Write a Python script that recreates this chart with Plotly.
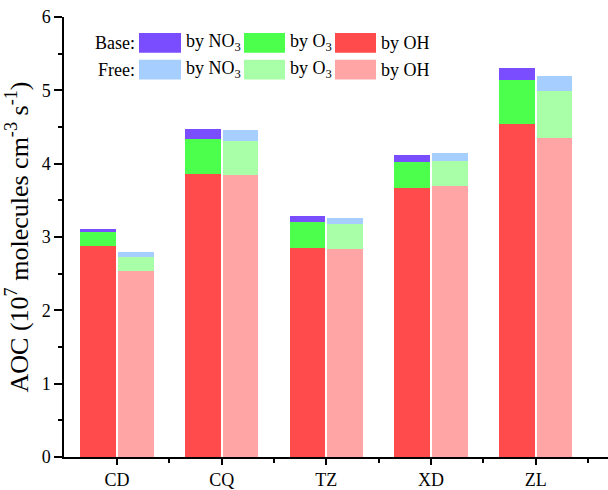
import plotly.graph_objects as go

sites = ["CD", "CQ", "TZ", "XD", "ZL"]
base_oh = [2.88, 3.86, 2.85, 3.67, 4.54]
base_o3 = [0.19, 0.47, 0.35, 0.35, 0.60]
base_no3 = [0.045, 0.14, 0.08, 0.10, 0.16]
free_oh = [2.53, 3.84, 2.83, 3.70, 4.35]
free_o3 = [0.20, 0.47, 0.345, 0.33, 0.64]
free_no3 = [0.06, 0.15, 0.085, 0.11, 0.21]

col_base = {"OH": "#FF4B4B", "O3": "#4DFF4D", "NO3": "#7A4DFF"}
col_free = {"OH": "#FFA5A5", "O3": "#A8FFA8", "NO3": "#A6CEFF"}

FONT = "Liberation Serif, Times New Roman, serif"
idx = list(range(len(sites)))
off = 0.18
w = 0.34

fig = go.Figure()
for name, vals, col in [("OH", base_oh, col_base["OH"]), ("O3", base_o3, col_base["O3"]), ("NO3", base_no3, col_base["NO3"])]:
    fig.add_trace(go.Bar(x=[i - off for i in idx], y=vals, width=w, marker=dict(color=col, line=dict(width=0)),
                         name="Base " + name, showlegend=False))
for name, vals, col in [("OH", free_oh, col_free["OH"]), ("O3", free_o3, col_free["O3"]), ("NO3", free_no3, col_free["NO3"])]:
    fig.add_trace(go.Bar(x=[i + off for i in idx], y=vals, width=w, marker=dict(color=col, line=dict(width=0)),
                         name="Free " + name, showlegend=False))

fig.update_layout(
    barmode="stack",
    width=608, height=490,
    margin=dict(l=64, r=0, t=17, b=30),
    plot_bgcolor="white", paper_bgcolor="white",
    font=dict(family=FONT, size=18, color="black"),
    showlegend=False,
)
fig.update_xaxes(
    range=[-0.506, 4.69], tickmode="array", tickvals=idx, ticktext=sites,
    ticks="outside", ticklen=6, tickwidth=1.5, tickcolor="black",
    showline=True, linecolor="black", linewidth=1.5, showgrid=False, zeroline=False,
    minor=dict(tickmode="array", tickvals=[i + 0.5 for i in idx], ticks="outside", ticklen=4, tickwidth=1.5, tickcolor="black"),
    tickfont=dict(size=18),
)
fig.update_yaxes(
    range=[0, 6], tickmode="linear", tick0=0, dtick=1,
    ticks="outside", ticklen=8, tickwidth=1.5, tickcolor="black",
    showline=True, linecolor="black", linewidth=1.5, showgrid=False, zeroline=False,
    minor=dict(dtick=0.5, ticks="outside", ticklen=4, tickwidth=1.5, tickcolor="black"),
    tickfont=dict(size=18),
    title=dict(text="AOC (10<sup>7</sup> molecules cm<sup>-3</sup> s<sup>-1</sup>)", font=dict(size=26), standoff=6),
)

# custom legend (pixel positions converted to paper coords)
PW, PH = 608 - 64, 490 - 17 - 30
def px(x):
    return (x - 64) / PW
def py(y):
    return (490 - 30 - y) / PH

rows = [("Base:", col_base, 33, 53), ("Free:", col_free, 60, 80)]
sw_x = [(139, 181), (244, 285), (335, 376)]
labels = ["by NO<sub>3</sub>", "by O<sub>3</sub>", "by OH"]
keys = ["NO3", "O3", "OH"]
for rlabel, cols, y0, y1 in rows:
    fig.add_annotation(x=px(137), y=py((y0 + y1) / 2), xref="paper", yref="paper", text=rlabel,
                       showarrow=False, xanchor="right", yanchor="middle", font=dict(size=18))
    for (x0, x1), lab, k in zip(sw_x, labels, keys):
        fig.add_shape(type="rect", xref="paper", yref="paper", x0=px(x0), x1=px(x1), y0=py(y1), y1=py(y0),
                      fillcolor=cols[k], line=dict(width=0))
        fig.add_annotation(x=px(x1 + 3), y=py((y0 + y1) / 2), xref="paper", yref="paper", text=lab,
                           showarrow=False, xanchor="left", yanchor="middle", font=dict(size=18))

fig.write_html("out.html")
